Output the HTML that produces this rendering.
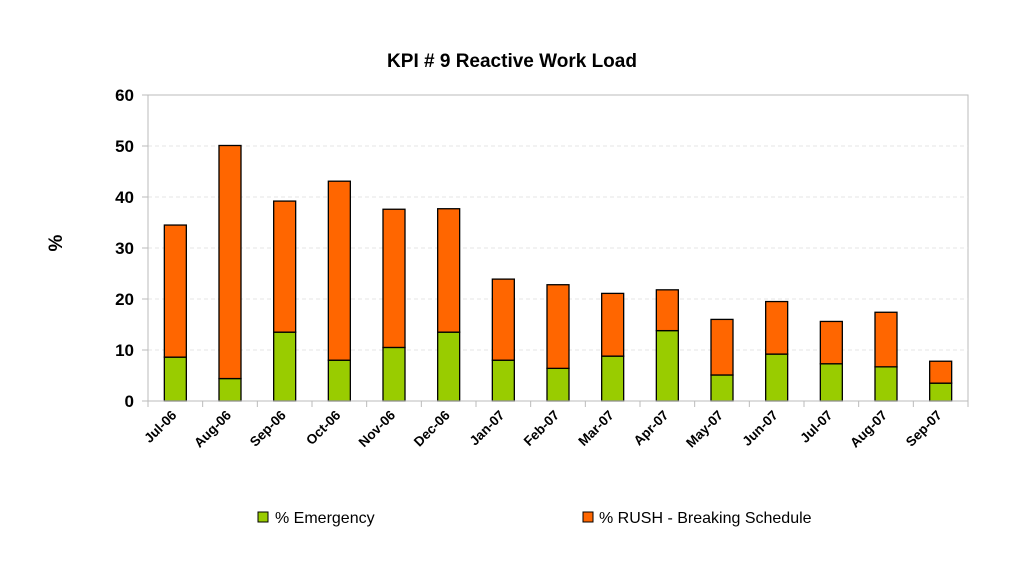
<!DOCTYPE html>
<html><head><meta charset="utf-8"><style>
body{margin:0;background:#fff}
svg{display:block;font-family:"Liberation Sans",Arial,sans-serif}
</style></head><body>
<svg id="chart" width="1024" height="569">
<text x="512" y="67" text-anchor="middle" font-size="19" font-weight="bold">KPI # 9 Reactive Work Load</text>
<text x="62" y="243" text-anchor="middle" font-size="19" font-weight="bold" transform="rotate(-90 62 243)">%</text>
<g id="grid"></g><g id="bars"></g><g id="axes"></g>
<g>
<rect x="258" y="512" width="10" height="10" fill="#99cc00" stroke="#000"/>
<text x="275" y="523" font-size="16">% Emergency</text>
<rect x="583" y="512" width="10" height="10" fill="#ff6600" stroke="#000"/>
<text x="599" y="523" font-size="16">% RUSH - Breaking Schedule</text>
</g>
</svg>
<script>
const categories=["Jul-06","Aug-06","Sep-06","Oct-06","Nov-06","Dec-06","Jan-07","Feb-07","Mar-07","Apr-07","May-07","Jun-07","Jul-07","Aug-07","Sep-07"];
const emergency=[8.6,4.4,13.5,8.0,10.5,13.5,8.0,6.4,8.8,13.8,5.1,9.2,7.3,6.7,3.5];
const totals=[34.5,50.1,39.2,43.1,37.6,37.7,23.9,22.8,21.1,21.8,16.0,19.5,15.6,17.4,7.8];
const yTicks=[0,10,20,30,40,50,60];
const NS="http://www.w3.org/2000/svg";
const L=148,R=968,T=95,B=401,yMax=60;
const y=v=>B-(v/yMax)*(B-T);
const step=(R-L)/categories.length;
const x=i=>L+step*(i+0.5);
function mk(tag,attrs,parent,text){const e=document.createElementNS(NS,tag);for(const k in attrs)e.setAttribute(k,attrs[k]);if(text!==undefined)e.textContent=text;parent.appendChild(e);return e;}
const grid=document.getElementById('grid'),bars=document.getElementById('bars'),axes=document.getElementById('axes');
mk('rect',{x:L,y:T,width:R-L,height:B-T,fill:'none',stroke:'#bbb'},grid);
yTicks.forEach(t=>{
 if(t>0&&t<yMax){const g=mk('line',{x1:L,x2:R,y1:y(t),y2:y(t),stroke:'#e4e4e4','stroke-dasharray':'4,3'},grid);
 
 }
 mk('line',{x1:L-6,x2:L,y1:y(t),y2:y(t),stroke:'#bbb'},axes);
 const lb=mk('text',{x:L-14,y:y(t)+6,'text-anchor':'end','font-size':17,'font-weight':'bold'},axes,t);
 
 
});
mk('line',{x1:L,x2:L,y1:T,y2:B+6,stroke:'#bbb'},axes);
mk('line',{x1:L,x2:R,y1:B,y2:B,stroke:'#bbb'},axes);
categories.forEach((c,i)=>{
 const tx=L+step*(i+1);
 mk('line',{x1:tx,x2:tx,y1:B,y2:B+6,stroke:'#bbb'},axes);
 const bw=22,bx=x(i)-bw/2;
 const g=mk('rect',{x:bx,y:y(emergency[i]),width:bw,height:y(0)-y(emergency[i]),fill:'#99cc00',stroke:'#000','stroke-width':1.3},bars);
 
 
 const o=mk('rect',{x:bx,y:y(totals[i]),width:bw,height:y(emergency[i])-y(totals[i]),fill:'#ff6600',stroke:'#000','stroke-width':1.3},bars);
 
 
 const lx=x(i)+2,ly=416;
 const t=mk('text',{x:lx,y:ly,'text-anchor':'end','font-size':13.5,'font-weight':'bold',transform:`rotate(-45 ${lx} ${ly})`},axes,c);
 
 
});
</script>
</body></html>
